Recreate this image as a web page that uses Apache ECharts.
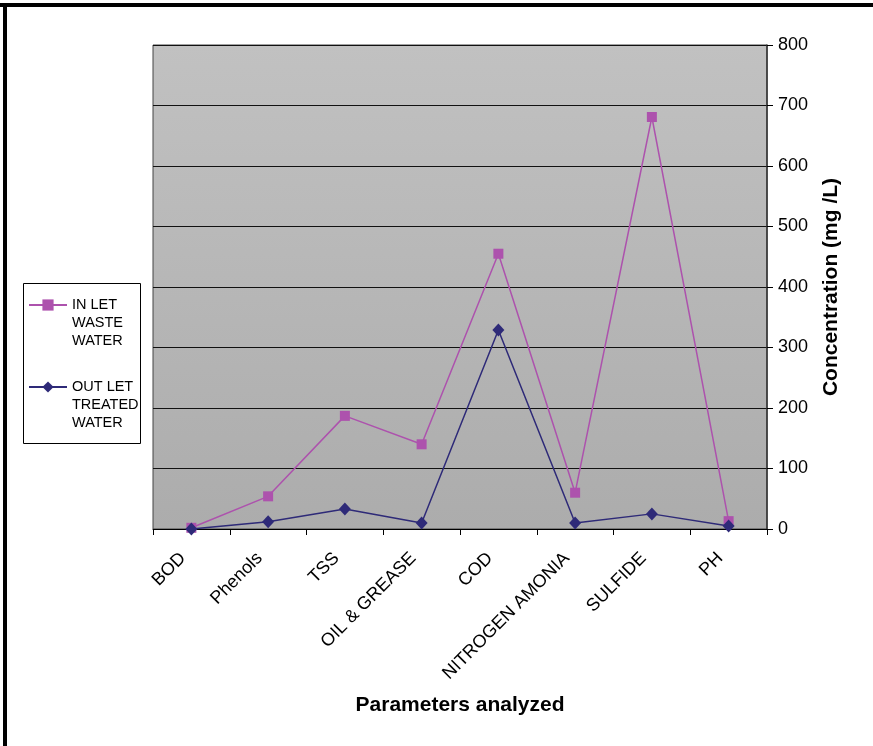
<!DOCTYPE html>
<html>
<head>
<meta charset="utf-8">
<script src="https://cdn.jsdelivr.net/npm/echarts@6/dist/echarts.min.js"></script>
<style>
  html, body { margin: 0; padding: 0; background: #fff; }
  #chart { width: 873px; height: 746px; }
</style>
</head>
<body>
<div id="chart"></div>
<script>
// Wastewater parameters, inlet vs. treated outlet (mg/L)
const categories = ['BOD', 'Phenols', 'TSS', 'OIL & GREASE', 'COD', 'NITROGEN AMONIA', 'SULFIDE', 'PH'];
const inletWaste = [2, 54, 187, 140, 455, 60, 681, 13];
const outletTreated = [0, 12, 33, 10, 329, 10, 25, 5];
const yTicks = { min: 0, max: 800, interval: 100 };

const seriesNames = ['IN LET\nWASTE\nWATER', 'OUT LET\nTREATED\nWATER'];

const font = '"Liberation Sans", Arial, sans-serif';

// One legend per entry so each key sits beside the first line of its label
function legendEntry(name, top) {
  return {
    orient: 'vertical',
    left: 28, top: top,
    padding: 0,
    itemWidth: 38, itemHeight: 14,
    itemGap: 0,
    // two leading blank lines drop the label so its first line is level with the key
    formatter: n => '\n\n' + n,
    textStyle: { fontFamily: font, fontSize: 14.5, color: '#000', lineHeight: 18 },
    data: [{ name: name }]
  };
}

const chart = echarts.init(document.getElementById('chart'), null, { renderer: 'canvas' });

chart.setOption({
  backgroundColor: '#ffffff',
  animation: false,
  textStyle: { fontFamily: font },
  grid: {
    left: 153, right: 106, top: 45, bottom: 217,
    show: true,
    borderColor: '#444',
    borderWidth: 1,
    backgroundColor: {
      type: 'linear', x: 0, y: 0, x2: 0, y2: 1,
      colorStops: [
        { offset: 0, color: '#c1c1c1' },
        { offset: 1, color: '#acacac' }
      ]
    }
  },
  legend: [
    legendEntry(seriesNames[0], 305 - 45),
    legendEntry(seriesNames[1], 387 - 45)
  ],
  xAxis: {
    type: 'category',
    data: categories,
    boundaryGap: true,
    name: 'Parameters analyzed',
    nameLocation: 'middle',
    nameGap: 166,
    nameTextStyle: { fontFamily: font, fontSize: 21, fontWeight: 'bold', color: '#000' },
    axisLine: { show: true, lineStyle: { color: '#000', width: 1 } },
    axisTick: { show: true, alignWithLabel: false, length: 6, lineStyle: { color: '#000' } },
    axisLabel: {
      rotate: 45, margin: 18, interval: 0,
      padding: [0, 12, 0, 0],
      fontFamily: font, fontSize: 18, color: '#000'
    },
    splitLine: { show: false }
  },
  yAxis: {
    type: 'value',
    position: 'right',
    min: yTicks.min, max: yTicks.max, interval: yTicks.interval,
    name: 'Concentration (mg /L)',
    nameLocation: 'middle',
    nameGap: 54,
    nameRotate: 90,
    nameTextStyle: { fontFamily: font, fontSize: 21, fontWeight: 'bold', color: '#000' },
    axisLine: { show: true, lineStyle: { color: '#333', width: 1.5 } },
    axisTick: { show: true, length: 6, lineStyle: { color: '#000' } },
    axisLabel: { margin: 11, fontFamily: font, fontSize: 18, color: '#000' },
    splitLine: { show: true, lineStyle: { color: '#111', width: 1 } }
  },
  series: [
    {
      name: seriesNames[0],
      type: 'line',
      data: inletWaste,
      symbol: 'rect',
      symbolSize: 10,
      z: 3,
      lineStyle: { color: '#ad52ad', width: 1.5 },
      itemStyle: { color: '#ad52ad', borderWidth: 0 }
    },
    {
      name: seriesNames[1],
      type: 'line',
      data: outletTreated,
      symbol: 'diamond',
      symbolSize: [12, 13],
      z: 4,
      lineStyle: { color: '#2e2a78', width: 1.5 },
      itemStyle: { color: '#2e2a78', borderWidth: 0 }
    }
  ],
  graphic: [
    // legend frame
    { type: 'rect', left: 23, top: 283, z: -1, shape: { width: 117, height: 160 },
      style: { fill: '#fff', stroke: '#000', lineWidth: 1 }, silent: true },
    // outer frame: heavy rule along the top and left edges
    { type: 'rect', left: 0, top: 3, shape: { width: 873, height: 4 }, style: { fill: '#000' }, silent: true },
    { type: 'rect', left: 3, top: 3, shape: { width: 4, height: 743 }, style: { fill: '#000' }, silent: true }
  ]
});
</script>
</body>
</html>
